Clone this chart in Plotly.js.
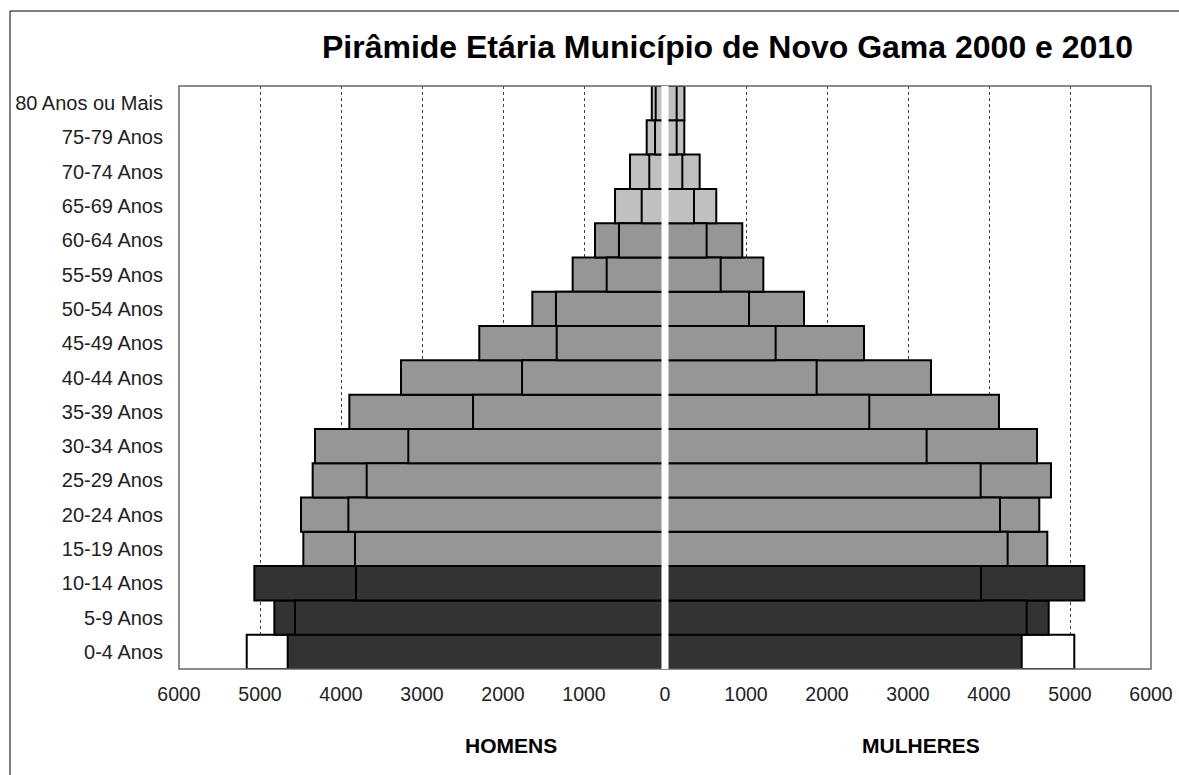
<!DOCTYPE html>
<html>
<head>
<meta charset="utf-8">
<script src="https://cdn.plot.ly/plotly-3.0.1.min.js"></script>
<style>
  html, body { margin: 0; padding: 0; background: #fff; }
  #chart { width: 1179px; height: 775px; }
</style>
</head>
<body>
<div id="chart"></div>
<script>
// Age groups, bottom to top
const categories = ['0-4 Anos','5-9 Anos','10-14 Anos','15-19 Anos','20-24 Anos','25-29 Anos','30-34 Anos','35-39 Anos','40-44 Anos','45-49 Anos','50-54 Anos','55-59 Anos','60-64 Anos','65-69 Anos','70-74 Anos','75-79 Anos','80 Anos ou Mais'];

// Men (HOMENS) - wider (back) bars and narrower (front) bars
const homensOuter = [5164, 4823, 5070, 4465, 4494, 4350, 4321, 3897, 3259, 2293, 1638, 1140, 864, 617, 432, 226, 163];
const homensInner = [4658, 4568, 3815, 3827, 3909, 3683, 3169, 2370, 1765, 1337, 1346, 720, 568, 288, 194, 123, 115];

// Women (MULHERES)
const mulheresOuter = [5053, 4737, 5177, 4720, 4621, 4765, 4593, 4123, 3284, 2457, 1716, 1214, 954, 633, 428, 238, 240];
const mulheresInner = [4404, 4465, 3901, 4230, 4136, 3897, 3230, 2522, 1872, 1366, 1037, 687, 514, 358, 214, 144, 144];

// Tick labels
const xTickVals = [-6000,-5000,-4000,-3000,-2000,-1000,0,1000,2000,3000,4000,5000,6000];
const xTickText = ['6000','5000','4000','3000','2000','1000','0','1000','2000','3000','4000','5000','6000'];

// Colours per age group
const DARK = '#333333', MID = '#969696', LIGHT = '#c0c0c0', WHITE = '#ffffff';
const groupColor = ['d','d','d','m','m','m','m','m','m','m','m','m','m','l','l','l','l'];
const cmap = {d: DARK, m: MID, l: LIGHT};
const innerColors = groupColor.map(g => cmap[g]);
const outerColors = innerColors.map((c, i) => i === 0 ? WHITE : c);

const FONT = '"Liberation Sans", Arial, sans-serif';
const line = {color: '#000', width: 2};

function bar(vals, colors, neg) {
  return {
    type: 'bar', orientation: 'h',
    y: categories,
    x: neg ? vals.map(v => -v) : vals,
    marker: {color: colors, line: line},
    showlegend: false, hoverinfo: 'skip'
  };
}

const data = [
  bar(homensOuter, outerColors, true),
  bar(homensInner, innerColors, true),
  bar(mulheresOuter, outerColors, false),
  bar(mulheresInner, innerColors, false)
];

const layout = {
  width: 1179, height: 775,
  margin: {l: 179, r: 28, t: 86, b: 106},
  paper_bgcolor: '#fff', plot_bgcolor: '#fff',
  barmode: 'overlay', bargap: 0,
  font: {family: FONT, color: '#222'},
  title: {
    text: '<b>Pirâmide Etária Município de Novo Gama 2000 e 2010</b>',
    font: {family: FONT, size: 32, color: '#000'},
    x: 0.617, xanchor: 'center', xref: 'container',
    y: 0.939, yanchor: 'middle', yref: 'container'
  },
  xaxis: {
    range: [-6000, 6000],
    tickmode: 'array', tickvals: xTickVals, ticktext: xTickText,
    showgrid: true, gridcolor: '#444', griddash: 'dot', gridwidth: 1,
    zeroline: false, showline: false, ticks: '',
    ticklabelstandoff: 11,
    tickfont: {family: FONT, size: 19.5, color: '#222'},
    fixedrange: true
  },
  yaxis: {
    type: 'category', showgrid: false, zeroline: false, showline: false, ticks: '',
    ticklabelstandoff: 15,
    tickfont: {family: FONT, size: 20, color: '#222'},
    fixedrange: true
  },
  shapes: [
    {type: 'rect', xref: 'paper', yref: 'paper', x0: 0, x1: 1, y0: 0, y1: 1,
     line: {color: '#666', width: 1.5}, fillcolor: 'rgba(0,0,0,0)', layer: 'above'},
    {type: 'line', xref: 'x', yref: 'paper', x0: 0, x1: 0, y0: 0, y1: 1,
     line: {color: '#fff', width: 7}, layer: 'above'},
    {type: 'rect', xref: 'paper', yref: 'paper',
     x0: (10 - 179) / 972, x1: (1200 - 179) / 972,
     y0: (669 - 800) / 583, y1: (669 - 11) / 583,
     line: {color: '#000', width: 1}, fillcolor: 'rgba(0,0,0,0)', layer: 'above'}
  ],
  annotations: [
    {text: '<b>HOMENS</b>', xref: 'x', yref: 'paper', x: -1900, y: (669 - 745) / 583,
     xanchor: 'center', yanchor: 'middle', showarrow: false,
     font: {family: FONT, size: 21, color: '#000'}},
    {text: '<b>MULHERES</b>', xref: 'x', yref: 'paper', x: 3160, y: (669 - 745) / 583,
     xanchor: 'center', yanchor: 'middle', showarrow: false,
     font: {family: FONT, size: 21, color: '#000'}}
  ]
};

Plotly.newPlot('chart', data, layout, {displayModeBar: false, staticPlot: true});
</script>
</body>
</html>
